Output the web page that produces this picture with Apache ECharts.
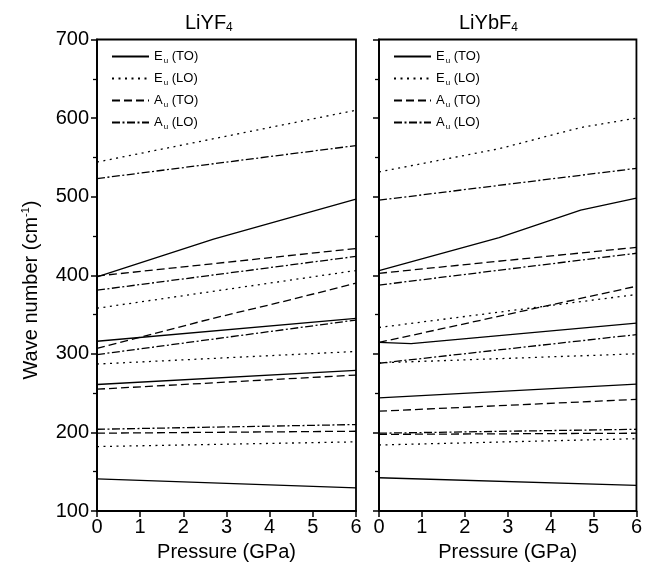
<!DOCTYPE html>
<html>
<head>
<meta charset="utf-8">
<script src="https://cdn.jsdelivr.net/npm/echarts@6/dist/echarts.min.js"></script>
<style>
html,body{margin:0;padding:0;background:#fff;}
#chart{width:645px;height:567px;}
</style>
</head>
<body>
<div id="chart"></div>
<script>
// ---- Data (pressure in GPa, wave number in cm^-1) ----
const pressureTicks = [0, 1, 2, 3, 4, 5, 6];
const waveTicks = [100, 200, 300, 400, 500, 600, 700];
const panelTitles = ['LiYF{s|4}', 'LiYbF{s|4}'];
const modeNames = ['Eu (TO)', 'Eu (LO)', 'Au (TO)', 'Au (LO)'];
const modeLabels = ['E{s|u} (TO)', 'E{s|u} (LO)', 'A{s|u} (TO)', 'A{s|u} (LO)'];

// LiYF4
const yfEuTO = [[[0,398],[2.7,446],[6,497]], [[0,316],[6,345]], [[0,261],[6,279]], [[0,141],[6,129.5]]];
const yfEuLO = [[[0,544],[6,610]], [[0,358],[6,406]], [[0,287],[6,303]], [[0,182],[6,188]]];
const yfAuTO = [[[0,399],[6,434]], [[0,307],[2.6,344],[4.5,369],[6,390]], [[0,255],[6,273]], [[0,199],[6,201.5]]];
const yfAuLO = [[[0,523],[6,565]], [[0,381],[6,424]], [[0,299],[6,343]], [[0,204],[6,210]]];

// LiYbF4
const ybEuTO = [[[0,406],[2.8,448],[4.7,483],[6,498]], [[0,314.5],[0.75,313],[6,339]], [[0,244],[6,261.5]], [[0,142.3],[6,132.5]]];
const ybEuLO = [[[0,531.5],[2.8,561],[4.7,588],[6,600]], [[0,333.5],[6,375.5]], [[0,288.5],[6,300]], [[0,184],[6,192]]];
const ybAuTO = [[[0,402.5],[6,435.5]], [[0,314.5],[6,386]], [[0,227],[6,242]], [[0,197.5],[6,199]]];
const ybAuLO = [[[0,495.5],[6,536]], [[0,387.5],[6,428]], [[0,288],[6,324.5]], [[0,199],[6,204]]];

const panels = [[yfEuTO, yfEuLO, yfAuTO, yfAuLO], [ybEuTO, ybEuLO, ybAuTO, ybAuLO]];

// ---- Styles ----
const FONT = 'Liberation Sans, Arial, sans-serif';
const lineTypes = ['solid', [2, 4.5], [8, 4], [8, 2.5, 2, 2.5]];
const grids = [
  {left: 97, top: 39.5, width: 259, height: 473},
  {left: 379, top: 39.5, width: 261, height: 473}
];

const chart = echarts.init(document.getElementById('chart'), null, {renderer: 'canvas'});

const series = [];
panels.forEach((modes, g) => {
  modes.forEach((branches, m) => {
    branches.forEach(b => {
      series.push({
        type: 'line', name: modeNames[m], xAxisIndex: g, yAxisIndex: g,
        data: b, symbol: 'none', silent: true, animation: false,
        itemStyle: {color: '#000'},
        lineStyle: {color: '#000', width: 1.3, type: lineTypes[m]}
      });
    });
  });
});

const subRich = {s: {fontSize: 8, fontFamily: FONT, color: '#000', verticalAlign: 'bottom', padding: [8, 0, 0, 1]}};

const option = {
  backgroundColor: '#fff',
  animation: false,
  color: ['#000'],
  grid: grids.map(gr => Object.assign({show: true, borderColor: '#000', borderWidth: 1.8, backgroundColor: 'transparent'}, gr)),
  xAxis: grids.map((gr, i) => ({
    type: 'value', gridIndex: i, min: pressureTicks[0], max: pressureTicks[pressureTicks.length - 1], interval: 1,
    name: 'Pressure (GPa)', nameLocation: 'middle', nameGap: 31,
    nameTextStyle: {fontSize: 20, fontFamily: FONT, color: '#000'},
    axisLine: {lineStyle: {color: '#000', width: 1.8}},
    axisTick: {inside: false, length: 6, lineStyle: {color: '#000', width: 1.5}},
    axisLabel: {fontSize: 20, fontFamily: FONT, color: '#000', margin: 6, showMinLabel: true, showMaxLabel: true},
    splitLine: {show: false}
  })),
  yAxis: grids.map((gr, i) => ({
    type: 'value', gridIndex: i, min: waveTicks[0], max: waveTicks[waveTicks.length - 1], interval: 100,
    axisLine: {show: true, lineStyle: {color: '#000', width: 1.8}},
    axisTick: {show: true, inside: false, length: 6, lineStyle: {color: '#000', width: 1.5}},
    minorTick: {show: true, splitNumber: 2, length: 4, lineStyle: {color: '#000', width: 1.3}},
    axisLabel: {show: i === 0, fontSize: 20, fontFamily: FONT, color: '#000', margin: 8},
    splitLine: {show: false}, minorSplitLine: {show: false}
  })),
  legend: grids.map(gr => ({
    data: modeNames, orient: 'vertical', left: gr.left + 14, top: 50, padding: 0,
    itemWidth: 37, itemHeight: 14, itemGap: 7.5,
    itemStyle: {opacity: 0},
    formatter: name => modeLabels[modeNames.indexOf(name)],
    textStyle: {fontSize: 13, fontFamily: FONT, color: '#000', rich: subRich},
    selectedMode: false
  })),
  graphic: [
    {type: 'text', left: 185, top: 13, style: {text: panelTitles[0], fontSize: 20, fontFamily: FONT, fill: '#000',
      rich: {s: {fontSize: 12, fontFamily: FONT, fill: '#000', verticalAlign: 'bottom', padding: [10, 0, 0, 0]}}}},
    {type: 'text', left: 459, top: 13, style: {text: panelTitles[1], fontSize: 20, fontFamily: FONT, fill: '#000',
      rich: {s: {fontSize: 12, fontFamily: FONT, fill: '#000', verticalAlign: 'bottom', padding: [10, 0, 0, 0]}}}},
    {type: 'text', x: 31, y: 290, rotation: Math.PI / 2,
      style: {text: 'Wave number (cm{p|-1})', fontSize: 20, fontFamily: FONT, fill: '#000', align: 'center', verticalAlign: 'middle',
        rich: {p: {fontSize: 11, fontFamily: FONT, fill: '#000', verticalAlign: 'top', padding: [0, 0, 10, 0]}}}}
  ],
  series: series
};
chart.setOption(option);
</script>
</body>
</html>
